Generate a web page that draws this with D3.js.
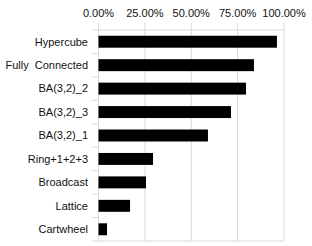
<!DOCTYPE html>
<html>
<head>
<meta charset="utf-8">
<script src="https://cdn.jsdelivr.net/npm/d3@7"></script>
<style>
  body { margin: 0; background: #fff; }
  text { font-family: "Liberation Sans", Arial, sans-serif; }
</style>
</head>
<body>
<div id="chart"></div>
<script>
const categories = ["Hypercube", "Fully  Connected", "BA(3,2)_2", "BA(3,2)_3", "BA(3,2)_1",
  "Ring+1+2+3", "Broadcast", "Lattice", "Cartwheel"];
const values = [0.962, 0.838, 0.795, 0.714, 0.59, 0.294, 0.256, 0.17, 0.046];
const tickValues = [0, 0.25, 0.5, 0.75, 1];

const width = 312, height = 246;
const margin = {top: 30, right: 28, bottom: 5, left: 98.5};

const svg = d3.select("#chart").append("svg")
  .attr("width", width)
  .attr("height", height);

const x = d3.scaleLinear()
  .domain([0, 1])
  .range([margin.left, width - margin.right]);

const y = d3.scaleBand()
  .domain(categories)
  .range([margin.top, height - margin.bottom])
  .paddingInner(0.49)
  .paddingOuter(0.245);

const grid = "#d9d9d9";

// vertical gridlines
svg.append("g")
  .selectAll("line")
  .data(tickValues)
  .enter().append("line")
  .attr("x1", d => x(d)).attr("x2", d => x(d))
  .attr("y1", margin.top - 7)
  .attr("y2", height - margin.bottom)
  .style("stroke", grid);

// category boundary ticks on the left
const step = y.step();
const bounds = d3.range(categories.length + 1).map(i => margin.top + i * step);
svg.append("g")
  .selectAll("line")
  .data(bounds)
  .enter().append("line")
  .attr("x1", margin.left - 6.5)
  .attr("x2", (d, i) => (i === 0 || i === categories.length) ? x(1) : margin.left)
  .attr("y1", d => d).attr("y2", d => d)
  .style("stroke", grid);

// top axis labels
svg.append("g")
  .selectAll("text")
  .data(tickValues)
  .enter().append("text")
  .attr("x", d => x(d))
  .attr("y", 17)
  .attr("text-anchor", "middle")
  .style("font-size", "11px")
  .style("fill", "#111")
  .text(d => d3.format(".2%")(d));

// bars
svg.append("g")
  .selectAll("rect")
  .data(values)
  .enter().append("rect")
  .attr("x", x(0))
  .attr("y", (d, i) => y(categories[i]))
  .attr("width", d => x(d) - x(0))
  .attr("height", y.bandwidth())
  .style("fill", "#000");

// category labels
svg.append("g")
  .selectAll("text")
  .data(categories)
  .enter().append("text")
  .attr("x", 88)
  .attr("y", d => y(d) + y.bandwidth() / 2)
  .attr("dy", "0.35em")
  .attr("text-anchor", "end")
  .style("font-size", "11px")
  .style("fill", "#111")
  .style("white-space", "pre")
  .text(d => d);
</script>
</body>
</html>
